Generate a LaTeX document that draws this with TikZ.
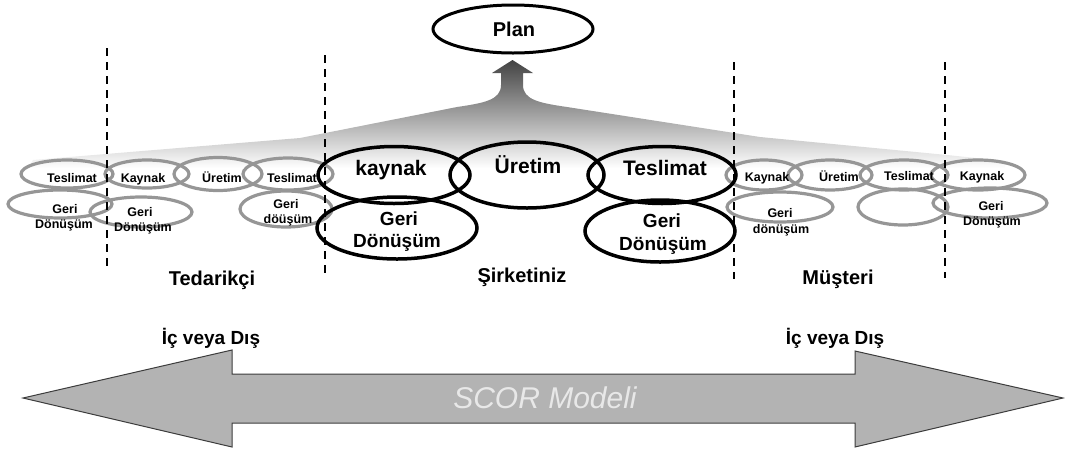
\documentclass[tikz,border=0pt]{standalone}
\usepackage{fontspec}
\setmainfont{Liberation Sans}
\usetikzlibrary{shapes.geometric}
\definecolor{ringgray}{RGB}{150,150,150}
\definecolor{arrowfill}{RGB}{179,179,179}
\definecolor{arrowline}{RGB}{60,60,60}
\definecolor{scortext}{RGB}{232,232,232}
\tikzset{
  bigring/.style={ellipse, draw=black, line width=3.5, inner sep=0},
  smallring/.style={ellipse, draw=ringgray, line width=3.2, inner sep=0},
  bigtext/.style={anchor=base, inner sep=0, font=\fontsize{21}{24}\selectfont\bfseries},
  midtext/.style={anchor=base, inner sep=0, font=\fontsize{19}{22}\selectfont\bfseries},
  smalltext/.style={anchor=base, inner sep=0, font=\fontsize{12.5}{14}\selectfont\bfseries},
  regiontext/.style={anchor=base, inner sep=0, font=\fontsize{20}{24}\selectfont\bfseries},
  divider/.style={draw=black, line width=2, dash pattern=on 8 off 6},
}
\begin{document}
\begin{tikzpicture}[x=1pt, y=-1pt]
\useasboundingbox (0,0) rectangle (1065,448);

% shaded flow rising to the plan
\shade[top color=black!74, bottom color=white]
  (512.5,60) -- (533,73) -- (523,73) -- (523,85)
  .. controls (523,100) and (540,103) .. (567,107)
  -- (760,137) -- (947,155) -- (1005,161) -- (1005,168)
  -- (28,168) -- (33,160) -- (300,138) -- (457,107)
  .. controls (484,103) and (501,100) .. (501,85)
  -- (501,73) -- (492,73) -- cycle;

% plan
\node[bigring, line width=3, minimum width=160, minimum height=48] (plan) at (513,29) {};
\node[regiontext] (plantxt) at (514,36) {Plan};

% supplier side rings
\node[smallring, minimum width=92, minimum height=28] (sT) at (67,174) {};
\node[smallring, minimum width=84, minimum height=28] (sK) at (147,174) {};
\node[smallring, minimum width=104, minimum height=28] (sG1) at (60,204) {};
\node[smallring, minimum width=102, minimum height=30] (sG2) at (141,212) {};
\node[smallring, minimum width=88, minimum height=33] (sU) at (218,174) {};
\node[smallring, minimum width=90, minimum height=32] (sT2) at (288,174) {};
\node[smallring, minimum width=92, minimum height=36] (sG3) at (286,209) {};

% customer side rings
\node[smallring, minimum width=76, minimum height=30] (cK) at (764,175) {};
\node[smallring, minimum width=84, minimum height=30] (cU) at (830,175) {};
\node[smallring, minimum width=88, minimum height=30] (cT) at (904,175) {};
\node[smallring, minimum width=94, minimum height=30] (cK2) at (978,175) {};
\node[smallring, minimum width=106, minimum height=30] (cG1) at (780,207) {};
\node[smallring, minimum width=90, minimum height=36] (cE) at (903,207) {};
\node[smallring, minimum width=114, minimum height=30] (cG2) at (990,203) {};

% small labels
\node[smalltext] (tsT) at (72,182) {Teslimat};
\node[smalltext] (tsK) at (143,182) {Kaynak};
\node[smalltext] (tsG1a) at (65,213) {Geri};
\node[smalltext] (tsG1b) at (64,228) {Dönüşüm};
\node[smalltext] (tsG2a) at (140,216) {Geri};
\node[smalltext] (tsG2b) at (143,231) {Dönüşüm};
\node[smalltext] (tsU) at (222,182) {Üretim};
\node[smalltext] (tsT2) at (292,182) {Teslimat};
\node[smalltext] (tsG3a) at (286,208) {Geri};
\node[smalltext] (tsG3b) at (288,223) {döüşüm};
\node[smalltext] (tcK) at (767,181) {Kaynak};
\node[smalltext] (tcU) at (839,181) {Üretim};
\node[smalltext] (tcT) at (909,180) {Teslimat};
\node[smalltext] (tcK2) at (982,180) {Kaynak};
\node[smalltext] (tcG1a) at (780,217) {Geri};
\node[smalltext] (tcG1b) at (781,233) {dönüşüm};
\node[smalltext] (tcG2a) at (991,210) {Geri};
\node[smalltext] (tcG2b) at (992,225) {Dönüşüm};

% company rings
\node[bigring, minimum width=152, minimum height=57] (kay) at (394,175) {};
\node[bigring, minimum width=154, minimum height=66] (ure) at (527,175) {};
\node[bigring, minimum width=148, minimum height=57] (tes) at (662,175) {};
\node[bigring, minimum width=160, minimum height=62] (gd1) at (397,228) {};
\node[bigring, minimum width=150, minimum height=62] (gd2) at (660,231) {};

\node[bigtext] (kaytxt) at (391,175) {kaynak};
\node[bigtext] (uretxt) at (528,173) {Üretim};
\node[bigtext] (testxt) at (665,175) {Teslimat};
\node[midtext] (gd1a) at (399,225) {Geri};
\node[midtext] (gd1b) at (397,247) {Dönüşüm};
\node[midtext] (gd2a) at (662,227) {Geri};
\node[midtext] (gd2b) at (663,250) {Dönüşüm};

% region dividers
\coordinate (d1t) at (107,48);  \coordinate (d1b) at (107,271);
\coordinate (d2t) at (325,55);  \coordinate (d2b) at (325,273);
\coordinate (d3t) at (734,62);  \coordinate (d3b) at (734,279);
\coordinate (d4t) at (945,62);  \coordinate (d4b) at (945,278);
\draw[divider] (d1t) -- (d1b);
\draw[divider] (d2t) -- (d2b);
\draw[divider] (d3t) -- (d3b);
\draw[divider] (d4t) -- (d4b);

% region names
\node[regiontext] (sup) at (212,285) {Tedarikçi};
\node[regiontext] (com) at (522,282) {Şirketiniz};
\node[regiontext] (cus) at (838,284) {Müşteri};
\node[regiontext, font=\fontsize{19}{22}\selectfont\bfseries] (inL) at (211,344) {İç veya Dış};
\node[regiontext, font=\fontsize{19}{22}\selectfont\bfseries] (inR) at (835,344) {İç veya Dış};

% SCOR double arrow
\draw[fill=arrowfill, draw=arrowline, line width=1]
  (23,398) -- (232,350) -- (232,374) -- (855,374) -- (855,351)
  -- (1063,398) -- (855,447) -- (855,423) -- (232,423) -- (232,447) -- cycle;
\node[anchor=base, inner sep=0, text=scortext, font=\fontsize{30}{34}\selectfont\itshape] (scor) at (545,408) {SCOR Modeli};
\end{tikzpicture}
\end{document}
